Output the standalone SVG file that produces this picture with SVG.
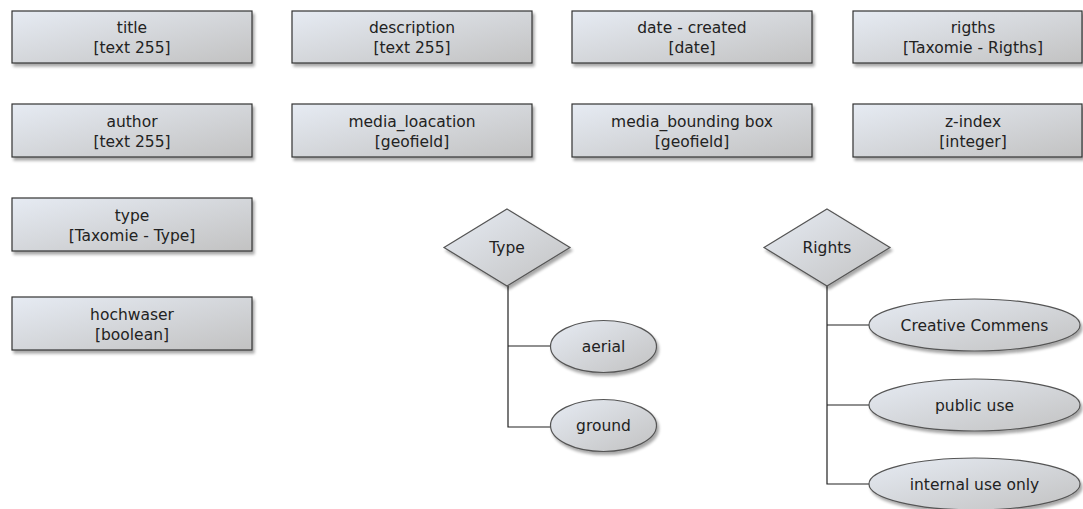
<svg xmlns="http://www.w3.org/2000/svg" width="1083" height="509" viewBox="0 0 1083 509">
  <defs>
    <linearGradient id="fillGrad" x1="0" y1="0" x2="1" y2="1">
      <stop offset="0" stop-color="#e6ebf3"/>
      <stop offset="1" stop-color="#c2c2c2"/>
    </linearGradient>
    <filter id="shadow" x="-10%" y="-20%" width="130%" height="160%">
      <feGaussianBlur in="SourceAlpha" stdDeviation="1.5"/>
      <feOffset dx="2" dy="3" result="b"/>
      <feComponentTransfer><feFuncA type="linear" slope="0.35"/></feComponentTransfer>
      <feMerge><feMergeNode/><feMergeNode in="SourceGraphic"/></feMerge>
    </filter>
  </defs>
  <style>
    .box { fill: url(#fillGrad); stroke: #333; stroke-width: 1.2; filter: url(#shadow); }
    .shape { fill: url(#fillGrad); stroke: #555; stroke-width: 1.2; filter: url(#shadow); }
    .lbl { font-family: "DejaVu Sans", sans-serif; font-size: 15.5px; fill: #222; text-anchor: middle; }
    .conn { stroke: #222; stroke-width: 1.2; fill: none; }
  </style>
  <rect width="1083" height="509" fill="#fff"/>

  <!-- field boxes -->
  <g id="title"><rect class="box" x="12" y="11" width="240" height="52"/><text class="lbl" x="132" y="33">title</text><text class="lbl" x="132" y="53">[text 255]</text></g>
  <g id="description"><rect class="box" x="292" y="11" width="240" height="52"/><text class="lbl" x="412" y="33">description</text><text class="lbl" x="412" y="53">[text 255]</text></g>
  <g id="date-created"><rect class="box" x="572" y="11" width="240" height="52"/><text class="lbl" x="692" y="33">date - created</text><text class="lbl" x="692" y="53">[date]</text></g>
  <g id="rigths"><rect class="box" x="853" y="11" width="229" height="52"/><text class="lbl" x="973" y="33">rigths</text><text class="lbl" x="973" y="53">[Taxomie - Rigths]</text></g>

  <g id="author"><rect class="box" x="12" y="104" width="240" height="53"/><text class="lbl" x="132" y="127">author</text><text class="lbl" x="132" y="147">[text 255]</text></g>
  <g id="media-location"><rect class="box" x="292" y="104" width="240" height="53"/><text class="lbl" x="412" y="127">media_loacation</text><text class="lbl" x="412" y="147">[geofield]</text></g>
  <g id="media-bounding-box"><rect class="box" x="572" y="104" width="240" height="53"/><text class="lbl" x="692" y="127">media_bounding box</text><text class="lbl" x="692" y="147">[geofield]</text></g>
  <g id="z-index"><rect class="box" x="853" y="104" width="229" height="53"/><text class="lbl" x="973" y="127">z-index</text><text class="lbl" x="973" y="147">[integer]</text></g>

  <g id="type"><rect class="box" x="12" y="198" width="240" height="53"/><text class="lbl" x="132" y="221">type</text><text class="lbl" x="132" y="241">[Taxomie - Type]</text></g>
  <g id="hochwaser"><rect class="box" x="12" y="297" width="240" height="53"/><text class="lbl" x="132" y="320">hochwaser</text><text class="lbl" x="132" y="340">[boolean]</text></g>

  <!-- connectors -->
  <g id="connectors">
    <path class="conn" d="M508 286 V427 H550 M508 346 H550"/>
    <path class="conn" d="M827 286 V484 H869 M827 325 H869 M827 405 H869"/>
  </g>

  <!-- taxonomy Type -->
  <g id="type-diamond"><polygon class="shape" points="507,209 570,247.5 507,286 444,247.5"/><text class="lbl" x="507" y="253">Type</text></g>
  <g id="aerial"><ellipse class="shape" cx="603.5" cy="346.5" rx="53" ry="26"/><text class="lbl" x="603.5" y="352">aerial</text></g>
  <g id="ground"><ellipse class="shape" cx="603.5" cy="425.5" rx="53" ry="26"/><text class="lbl" x="603.5" y="431">ground</text></g>

  <!-- taxonomy Rights -->
  <g id="rights-diamond"><polygon class="shape" points="827,209 890,247.5 827,286 764,247.5"/><text class="lbl" x="827" y="253">Rights</text></g>
  <g id="creative-commens"><ellipse class="shape" cx="974.5" cy="325" rx="105.5" ry="26"/><text class="lbl" x="974.5" y="330.5">Creative Commens</text></g>
  <g id="public-use"><ellipse class="shape" cx="974.5" cy="405" rx="105.5" ry="26"/><text class="lbl" x="974.5" y="410.5">public use</text></g>
  <g id="internal-use-only"><ellipse class="shape" cx="974.5" cy="484" rx="105.5" ry="26"/><text class="lbl" x="974.5" y="489.5">internal use only</text></g>
</svg>
